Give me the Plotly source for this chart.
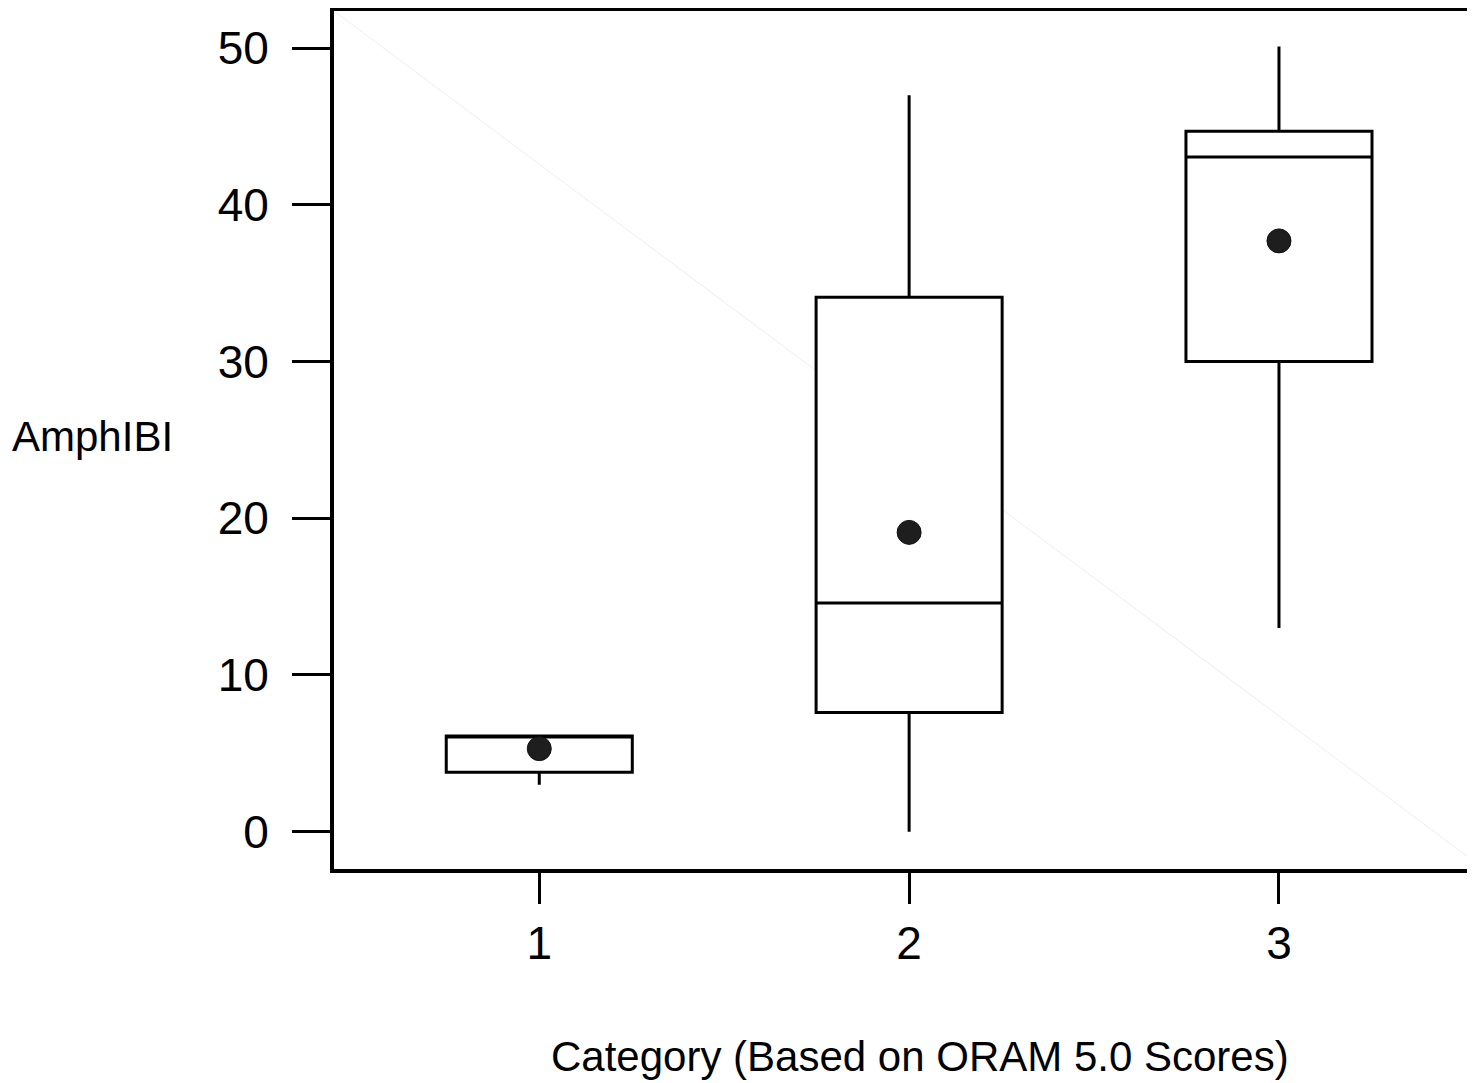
import plotly.graph_objects as go

categories = [1, 2, 3]
tick_labels = ["1", "2", "3"]
q1 = [3.8, 7.6, 30.0]
median = [6.1, 14.6, 43.05]
q3 = [6.1, 34.1, 44.7]
lower_whisker = [3.0, 0.0, 13.0]
upper_whisker = [6.1, 47.0, 50.1]
means = [5.3, 19.1, 37.7]

# page body adds an 8px offset; figure coords = screen coords - 8
OFF = 8
W, H = 1475 - OFF, 1083 - OFF
PL, PT, PR, PB = 334, 11, 1475, 869  # plot area in screen coords
ml, mt = PL - OFF, PT - OFF
mr = W - (PR - OFF)
mb = H - (PB - OFF)
PW, PH = PR - PL, PB - PT

fig = go.Figure()
fig.add_trace(go.Box(
    x=categories, q1=q1, median=median, q3=q3,
    lowerfence=lower_whisker, upperfence=upper_whisker,
    width=0.503, whiskerwidth=0, boxpoints=False,
    fillcolor="white", line=dict(color="black", width=3),
    showlegend=False, hoverinfo="skip",
))
fig.add_trace(go.Scatter(
    x=categories, y=means, mode="markers",
    marker=dict(symbol="circle", size=24, color="#1e1e1e",
                line=dict(color="#111111", width=1)),
    showlegend=False, hoverinfo="skip",
))

font_main = "Liberation Sans, Arial, sans-serif"

fig.update_layout(
    width=W, height=H,
    margin=dict(l=ml, r=mr, t=mt, b=mb, autoexpand=False),
    plot_bgcolor="white", paper_bgcolor="white",
    font=dict(family=font_main, color="black", size=46),
    xaxis=dict(
        range=[0.445, 3.53], tickvals=categories, ticktext=tick_labels,
        ticks="outside", ticklen=31, tickwidth=3, tickcolor="black",
        showline=True, linecolor="black", linewidth=4, mirror=True,
        showgrid=False, zeroline=False,
        tickfont=dict(size=46, family=font_main),
        ticklabelstandoff=0,
    ),
    yaxis=dict(
        range=[-2.38, 52.37], tickvals=[0, 10, 20, 30, 40, 50],
        ticks="outside", ticklen=38, tickwidth=3, tickcolor="black",
        showline=True, linecolor="black", linewidth=4, mirror=False,
        showgrid=False, zeroline=False,
        tickfont=dict(size=46, family=font_main),
        ticklabelstandoff=14,
    ),
    shapes=[dict(type="line", xref="paper", yref="paper",
                 x0=0, y0=1, x1=1, y1=0.008,
                 line=dict(color="rgb(238,238,238)", width=1), layer="below")],
    annotations=[
        dict(text="AmphIBI", xref="paper", yref="paper",
             x=(10 - PL) / PW, y=(PB - 437) / PH,
             xanchor="left", yanchor="middle", showarrow=False,
             font=dict(size=42, family=font_main)),
        dict(text="Category (Based on ORAM 5.0 Scores)", xref="paper", yref="paper",
             x=(920 - PL) / PW, y=-(1056 - PB) / PH,
             xanchor="center", yanchor="middle", showarrow=False,
             font=dict(size=42, family=font_main)),
    ],
)

fig.write_html("out.html")
